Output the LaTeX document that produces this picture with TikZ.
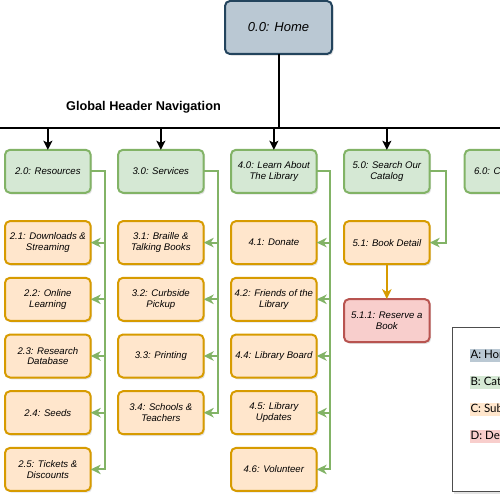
\documentclass[tikz,border=0pt]{standalone}
\usepackage{fontspec}
\setmainfont{Liberation Sans}
\newfontfamily\legendfont{Lato}
\usetikzlibrary{arrows.meta}
\usetikzlibrary{positioning}
\usetikzlibrary{shadows}

\definecolor{homeFill}{HTML}{BAC8D3}
\definecolor{homeLine}{HTML}{23445D}
\definecolor{catFill}{HTML}{D5E8D4}
\definecolor{catLine}{HTML}{82B366}
\definecolor{subFill}{HTML}{FFE6CC}
\definecolor{subLine}{HTML}{D79B00}
\definecolor{detFill}{HTML}{F8CECC}
\definecolor{detLine}{HTML}{B85450}
\definecolor{keyLine}{HTML}{4D4D4D}

\tikzset{
  box/.style={draw, rounded corners=5pt, line width=2pt, minimum width=85.7pt,
              minimum height=43pt, align=center, inner sep=2pt, outer sep=0pt,
              font=\fontsize{9.6}{10.7}\selectfont\itshape,
              drop shadow={shadow xshift=1.5pt, shadow yshift=-1.8pt, opacity=0.22}},
  homebox/.style={box, fill=homeFill, draw=homeLine, minimum width=107pt,
                  minimum height=53pt, font=\fontsize{13}{15}\selectfont\itshape},
  catbox/.style={box, fill=catFill, draw=catLine},
  subbox/.style={box, fill=subFill, draw=subLine},
  detbox/.style={box, fill=detFill, draw=detLine},
  navline/.style={draw=black, line width=2pt},
  navarrow/.style={navline, -{Stealth[length=9pt, width=9pt, inset=2pt]}},
  catarrow/.style={draw=catLine, line width=2pt, -{Stealth[length=10pt, width=9.5pt, inset=3pt]}},
  subarrow/.style={draw=subLine, line width=2pt, -{Stealth[length=10pt, width=9.5pt, inset=3pt]}},
  keylabel/.style={inner sep=1pt, anchor=west, text height=8.5pt, text depth=2.5pt,
                   font=\legendfont\fontsize{11.5}{13}\selectfont}
}

\begin{document}
\begin{tikzpicture}[x=1pt, y=1pt]
\useasboundingbox (0,0) rectangle (500,-500);
\clip (0,0) rectangle (500,-500);

% home and global navigation
\node[homebox] (home) at (278.5,-27.5) {0.0: Home};
\node[font=\fontsize{12.7}{15}\selectfont\bfseries] (nav_text) at (143.5,-107) {Global Header Navigation};
\coordinate (nav_l) at (-10,-128);
\coordinate (nav_r) at (510,-128);

% categories
\node[catbox] (cat_res) at (47.85,-171.3)              {2.0: Resources};
\node[catbox, right=27.3pt of cat_res]    (cat_serv)    {3.0: Services};
\node[catbox, right=27.3pt of cat_serv]   (cat_learn)   {4.0: Learn About\\The Library};
\node[catbox, right=27.3pt of cat_learn]  (cat_search)  {5.0: Search Our\\Catalog};
\node[catbox, right=35pt of cat_search]   (cat_contact) {6.0: Contact Us};

% subcategories
\node[subbox, below=28.3pt of cat_res]   (res_dl)    {2.1: Downloads \&\\Streaming};
\node[subbox, below=13.7pt of res_dl]    (res_learn) {2.2: Online\\Learning};
\node[subbox, below=13.7pt of res_learn] (res_db)    {2.3: Research\\Database};
\node[subbox, below=13.7pt of res_db]    (res_seeds) {2.4: Seeds};
\node[subbox, below=13.7pt of res_seeds] (res_tix)   {2.5: Tickets \&\\Discounts};

\node[subbox, below=28.3pt of cat_serv]   (serv_braille)  {3.1: Braille \&\\Talking Books};
\node[subbox, below=13.7pt of serv_braille] (serv_curb)   {3.2: Curbside\\Pickup};
\node[subbox, below=13.7pt of serv_curb]  (serv_print)    {3.3: Printing};
\node[subbox, below=13.7pt of serv_print] (serv_school)   {3.4: Schools \&\\Teachers};

\node[subbox, below=28.3pt of cat_learn]    (learn_donate)  {4.1: Donate};
\node[subbox, below=13.7pt of learn_donate] (learn_friends) {4.2: Friends of the\\Library};
\node[subbox, below=13.7pt of learn_friends] (learn_board)  {4.4: Library Board};
\node[subbox, below=13.7pt of learn_board]  (learn_updates) {4.5: Library\\Updates};
\node[subbox, below=13.7pt of learn_updates] (learn_vol)    {4.6: Volunteer};

\node[subbox, below=28.3pt of cat_search] (book)    {5.1: Book Detail};
\node[detbox, below=35pt of book]         (reserve) {5.1.1: Reserve a\\Book};

% key
\node[draw=keyLine, line width=1pt, fill=white, anchor=north west, minimum width=80pt,
      minimum height=164pt, outer sep=0pt,
      drop shadow={shadow xshift=1.5pt, shadow yshift=-1.8pt, opacity=0.22}] (key) at (452.5,-327.7) {};
\node[keylabel, fill=homeFill] (key_a) at (469.3,-355.7) {A: Homepage};
\node[keylabel, fill=catFill]  (key_b) at (469.3,-382.5) {B: Category};
\node[keylabel, fill=subFill]  (key_c) at (469.3,-409.2) {C: Subcategory};
\node[keylabel, fill=detFill]  (key_d) at (469.3,-436)   {D: Detail};

% connectors
\draw[navline] (home.south) -- (home.south |- nav_l);
\draw[navline] (nav_l) -- (nav_r);
\foreach \cat in {cat_res, cat_serv, cat_learn, cat_search, cat_contact}
  \draw[navarrow] (\cat.north |- nav_l) -- (\cat.north);

\coordinate[right=14.6pt of cat_res.east]    (res_trunk);
\coordinate[right=14.3pt of cat_serv.east]   (serv_trunk);
\coordinate[right=13.7pt of cat_learn.east]  (learn_trunk);
\coordinate[right=16pt of cat_search.east]   (search_trunk);

\draw[catarrow] (cat_res.east) -- (res_trunk) |- (res_tix.east);
\foreach \child in {res_dl, res_learn, res_db, res_seeds}
  \draw[catarrow] (res_trunk |- \child.east) -- (\child.east);

\draw[catarrow] (cat_serv.east) -- (serv_trunk) |- (serv_school.east);
\foreach \child in {serv_braille, serv_curb, serv_print}
  \draw[catarrow] (serv_trunk |- \child.east) -- (\child.east);

\draw[catarrow] (cat_learn.east) -- (learn_trunk) |- (learn_vol.east);
\foreach \child in {learn_donate, learn_friends, learn_board, learn_updates}
  \draw[catarrow] (learn_trunk |- \child.east) -- (\child.east);

\draw[catarrow] (cat_search.east) -- (search_trunk) |- (book.east);
\draw[subarrow] (book.south) -- (reserve.north);
\end{tikzpicture}
\end{document}
